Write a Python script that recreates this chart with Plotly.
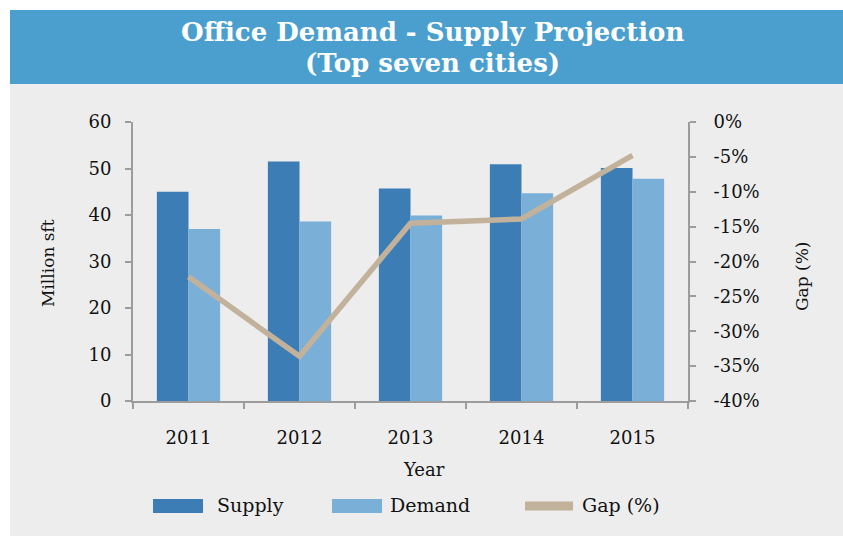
import plotly.graph_objects as go

years = ["2011", "2012", "2013", "2014", "2015"]
supply = [45.0, 51.5, 45.7, 50.9, 50.1]
demand = [37.0, 38.6, 39.9, 44.7, 47.8]
gap_pct = [-22.2, -33.6, -14.5, -13.9, -4.8]

left_ticks = [0, 10, 20, 30, 40, 50, 60]
gap_ticks = [0, -5, -10, -15, -20, -25, -30, -35, -40]
gap_tick_labels = ["0%", "-5%", "-10%", "-15%", "-20%", "-25%", "-30%", "-35%", "-40%"]

title_lines = ["Office Demand - Supply Projection", "(Top seven cities)"]
legend_names = ["Supply", "Demand", "Gap (%)"]

C_SUPPLY = "#3b7db4"
C_DEMAND = "#7aafd7"
C_GAP = "#c3b29b"
C_AXIS = "#9c9c9c"
C_BAND = "#4a9fce"
C_BG = "#ededed"
FONT = "DejaVu Serif"

W, H = 843, 536
L, R, T, B = 133, 688, 122, 401  # plot area in pixels


def px(x):
    return (x - L) / (R - L)


def py(y):
    return (B - y) / (B - T)


fig = go.Figure()
fig.add_trace(go.Bar(x=years, y=supply, name=legend_names[0], marker_color=C_SUPPLY,
                     marker_line_width=0, showlegend=False))
fig.add_trace(go.Bar(x=years, y=demand, name=legend_names[1], marker_color=C_DEMAND,
                     marker_line_width=0, showlegend=False))
fig.add_trace(go.Scatter(x=years, y=gap_pct, name=legend_names[2], yaxis="y2", mode="lines",
                         line=dict(color=C_GAP, width=5.5), showlegend=False))

shapes = [
    dict(type="rect", xref="paper", yref="paper", x0=px(10), x1=px(W + 5), y0=py(H + 5), y1=py(10),
         fillcolor=C_BG, line_width=0, layer="below"),
    dict(type="rect", xref="paper", yref="paper", x0=px(10), x1=px(W + 5), y0=py(84), y1=py(10),
         fillcolor=C_BAND, line_width=0, layer="below"),
]

title_font = dict(family=FONT, size=26, color="white", weight="bold")
annotations = [
    dict(text=title_lines[0], x=px(432), y=py(32), xref="paper", yref="paper", showarrow=False,
         xanchor="center", yanchor="middle", font=title_font),
    dict(text=title_lines[1], x=px(432), y=py(63), xref="paper", yref="paper", showarrow=False,
         xanchor="center", yanchor="middle", font=title_font),
    dict(text="Million sft", x=px(48), y=py(263), xref="paper", yref="paper", showarrow=False,
         textangle=-90, xanchor="center", yanchor="middle", font=dict(family=FONT, size=17, color="#111")),
    dict(text="Gap (%)", x=px(802), y=py(277), xref="paper", yref="paper", showarrow=False,
         textangle=-90, xanchor="center", yanchor="middle", font=dict(family=FONT, size=17, color="#111")),
    dict(text="Year", x=px(424), y=py(469), xref="paper", yref="paper", showarrow=False,
         xanchor="center", yanchor="middle", font=dict(family=FONT, size=18, color="#111")),
]

# custom legend (wide swatches like the reference)
leg_y = 506
leg_items = [
    (legend_names[0], C_SUPPLY, 153, 203, 14, 215),
    (legend_names[1], C_DEMAND, 332, 382, 14, 388),
    (legend_names[2], C_GAP, 525, 573, 9, 580),
]
for name, col, x0, x1, h, tx in leg_items:
    shapes.append(dict(type="rect", xref="paper", yref="paper", x0=px(x0), x1=px(x1),
                       y0=py(leg_y + h / 2), y1=py(leg_y - h / 2), fillcolor=col, line_width=0))
    annotations.append(dict(text=name, x=px(tx), y=py(leg_y - 1), xref="paper", yref="paper",
                            showarrow=False, xanchor="left", yanchor="middle",
                            font=dict(family=FONT, size=19, color="#111")))

fig.update_layout(
    width=W, height=H,
    margin=dict(l=L, r=W - R, t=T, b=H - B, pad=0),
    paper_bgcolor="white", plot_bgcolor="rgba(0,0,0,0)",
    barmode="group", bargap=0.43, bargroupgap=0,
    font=dict(family=FONT, size=18, color="#111"),
    shapes=shapes, annotations=annotations,
    showlegend=False,
    xaxis=dict(type="category", showline=True, linecolor=C_AXIS, linewidth=2, showgrid=False,
               ticks="outside", tickson="boundaries", ticklen=6, tickcolor=C_AXIS, tickwidth=1.5,
               ticklabelstandoff=19, tickfont=dict(family=FONT, size=18, color="#111")),
    yaxis=dict(range=[0, 60], tickvals=left_ticks, showline=True, linecolor=C_AXIS, linewidth=2,
               showgrid=False, zeroline=False, ticks="outside", ticklen=6, tickcolor=C_AXIS, tickwidth=1.5,
               ticklabelstandoff=10, tickfont=dict(family=FONT, size=18, color="#111")),
    yaxis2=dict(range=[-40, 0], overlaying="y", side="right", tickvals=gap_ticks, ticktext=gap_tick_labels,
                showline=True, linecolor=C_AXIS, linewidth=2, showgrid=False, zeroline=False,
                ticks="outside", ticklen=6, tickcolor=C_AXIS, tickwidth=1.5, ticklabelstandoff=14,
                tickfont=dict(family=FONT, size=18, color="#111")),
)

fig.write_html("out.html", config={"displayModeBar": False},
               post_script="document.body.style.margin='0';document.body.style.padding='0';"
                           "document.documentElement.style.overflow='hidden';")
